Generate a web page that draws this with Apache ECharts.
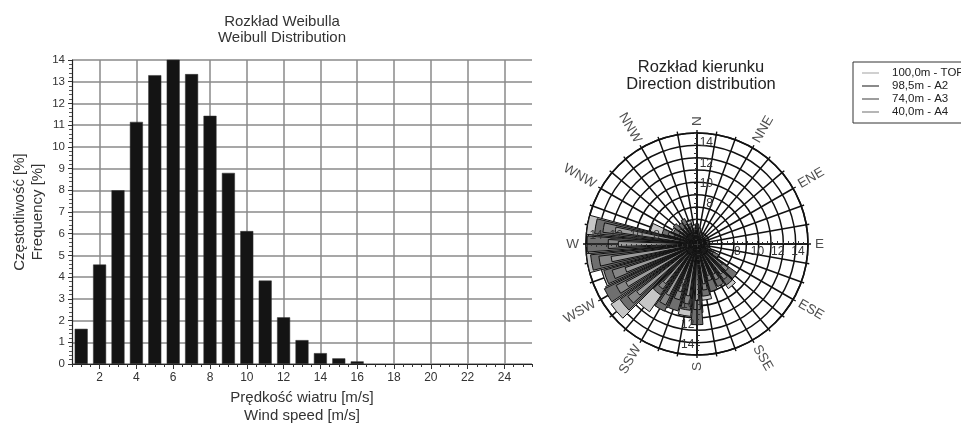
<!DOCTYPE html>
<html>
<head>
<meta charset="utf-8">
<script src="https://cdn.jsdelivr.net/npm/echarts@6/dist/echarts.min.js"></script>
<style>
  html, body { margin: 0; padding: 0; background: #fff; }
  #chart { width: 961px; height: 430px; }
</style>
</head>
<body>
<div id="chart"></div>
<script>
// Weibull histogram: wind speed bins (m/s) and frequency (%)
var speedBins = [1, 2, 3, 4, 5, 6, 7, 8, 9, 10, 11, 12, 13, 14, 15, 16];
var frequency = [1.62, 4.58, 8.0, 11.15, 13.3, 14.05, 13.35, 11.43, 8.8, 6.12, 3.84, 2.15, 1.1, 0.5, 0.26, 0.12];
var speedLabels = [2, 4, 6, 8, 10, 12, 14, 16, 18, 20, 22, 24];

// Direction rose: 36 sectors of 10 degrees, clockwise from N
var sectorAngles = [];
for (var i = 0; i < 36; i++) sectorAngles.push(String(i * 10));
var topVals = [5.6, 5.3, 5.0, 4.9, 4.8, 4.7, 4.6, 4.6, 4.6, 4.7, 4.9, 5.2, 6.0, 7.6, 9.4, 8.6, 8.2, 9.6,
               10.8, 11.2, 10.4, 11.0, 12.2, 14.4, 14.0, 13.8, 15.0, 14.8, 15.0, 8.8, 6.8, 6.3, 6.0, 6.2, 6.4, 5.9];
var a2Vals = [6.0, 5.6, 5.2, 5.0, 4.8, 4.7, 4.6, 4.6, 4.7, 4.8, 5.0, 5.4, 6.4, 8.9, 9.0, 8.7, 8.9, 9.2,
              12.0, 10.6, 10.9, 11.4, 10.2, 13.4, 14.2, 13.6, 14.6, 14.9, 14.2, 7.6, 6.6, 6.9, 6.6, 6.8, 6.1, 5.6];
var a3Vals = [5.3, 5.0, 4.9, 4.8, 4.6, 4.6, 4.5, 4.5, 4.6, 4.7, 4.8, 5.1, 5.8, 7.9, 8.4, 8.0, 7.8, 8.6,
              10.5, 10.0, 9.8, 10.8, 9.6, 12.6, 13.0, 12.8, 13.8, 12.8, 13.4, 7.0, 6.0, 6.2, 6.0, 6.2, 5.8, 5.4];
var a4Vals = [5.0, 4.8, 4.7, 4.6, 4.5, 4.5, 4.4, 4.4, 4.5, 4.6, 4.7, 4.9, 5.5, 7.2, 7.8, 7.4, 7.3, 8.0,
              9.6, 9.2, 9.0, 9.8, 9.0, 11.6, 12.0, 11.5, 12.6, 11.8, 12.2, 6.4, 5.6, 5.8, 5.6, 5.8, 5.4, 5.1];
var dirNames = ['N', 'NNE', 'ENE', 'E', 'ESE', 'SSE', 'S', 'SSW', 'WSW', 'W', 'WNW', 'NNW'];
var dirAngles = [0, 30, 60, 90, 120, 150, 180, 210, 240, 270, 300, 330];
var seriesNames = ['100,0m - TOP', '98,5m - A2', '74,0m - A3', '40,0m - A4'];

var FONT = 'Liberation Sans, Arial, sans-serif';
var C = [697, 244], R = 111;
var black = '#111';

var chart = echarts.init(document.getElementById('chart'), null, { renderer: 'canvas' });

// polar 0 = grid, 1..4 = bar series, 5..8 = radius axes N/E/S/W, 9 = direction names
var polars = [], angleAxes = [], radiusAxes = [];
for (var p = 0; p < 9; p++) polars.push({ center: C, radius: [0, R] });
polars.push({ center: C, radius: [0, 140] });

angleAxes.push({
  polarIndex: 0, type: 'value', min: 0, max: 360, interval: 10, startAngle: 90, clockwise: true,
  axisLine: { lineStyle: { color: black, width: 1.6 } },
  axisTick: { show: true, length: 3, lineStyle: { color: black, width: 1.4 } },
  axisLabel: { show: false },
  splitLine: { show: true, lineStyle: { color: black, width: 1.5 } }
});
radiusAxes.push({
  polarIndex: 0, type: 'value', min: 0, max: 9, interval: 1,
  axisLine: { show: false }, axisTick: { show: false }, axisLabel: { show: false },
  splitLine: { show: true, lineStyle: { color: black, width: 1.5 } }
});
for (var b = 1; b <= 4; b++) {
  angleAxes.push({
    polarIndex: b, type: 'category', data: sectorAngles, startAngle: 95, clockwise: true,
    boundaryGap: true, show: false
  });
  radiusAxes.push({ polarIndex: b, type: 'value', min: 4, max: 15, show: false });
}
[90, 0, 270, 180].forEach(function (a, k) {
  angleAxes.push({ polarIndex: 5 + k, type: 'value', min: 0, max: 360, startAngle: a, show: false });
  radiusAxes.push({
    polarIndex: 5 + k, type: 'value', min: 4, max: 15, interval: 1, z: 5,
    axisLine: { show: true, lineStyle: { color: black, width: 1.5 } },
    axisTick: { show: true, length: 3, lineStyle: { color: '#333' } },
    minorTick: { show: true, splitNumber: 2, length: 2, lineStyle: { color: '#333' } },
    axisLabel: {
      fontFamily: FONT, fontSize: 12, color: '#333', margin: (a === 90 || a === 270) ? -16 : -14,
      formatter: function (v) { return (v >= 8 && v % 2 === 0) ? String(v) : ''; }
    },
    splitLine: { show: false }
  });
});
angleAxes.push({ polarIndex: 9, type: 'value', min: 0, max: 360, startAngle: 90, clockwise: true, show: false });
radiusAxes.push({ polarIndex: 9, type: 'value', min: 0, max: 14, show: false });

var dirLabels = dirNames.map(function (n, i) {
  var t = dirAngles[i];
  var right = t < 180;
  return {
    name: n, value: [11.8, t],
    label: { rotate: right ? 90 - t : 270 - t, align: right ? 'left' : 'right' }
  };
});

var roseColors = ['#c6c6c6', '#6f6f6f', '#858585', '#9b9b9b'];
var roseWidths = ['100%', '84%', '58%', '36%'];
var roseData = [topVals, a2Vals, a3Vals, a4Vals];
var legendColors = ['#b0b0b0', '#3c3c3c', '#5c5c5c', '#858585'];

var series = [{
  type: 'bar', xAxisIndex: 0, yAxisIndex: 0,
  data: speedBins.map(function (s, i) { return [s, frequency[i]]; }),
  barWidth: 13,
  itemStyle: { color: '#141414', borderColor: '#333', borderWidth: 0.5 },
  z: 3
}];
roseData.forEach(function (vals, k) {
  series.push({
    name: seriesNames[k], type: 'bar', coordinateSystem: 'polar', polarIndex: 1 + k,
    data: vals, barWidth: roseWidths[k],
    itemStyle: { color: roseColors[k], borderColor: black, borderWidth: 1 },
    z: 2 + k
  });
});
series.push({
  type: 'scatter', coordinateSystem: 'polar', polarIndex: 9, symbol: 'circle', symbolSize: 1,
  itemStyle: { color: 'rgba(0,0,0,0)' },
  data: dirLabels, silent: true, z: 10,
  label: {
    show: true, position: 'inside', formatter: '{b}', verticalAlign: 'middle',
    fontFamily: FONT, fontSize: 13.5, color: '#222'
  }
});

var option = {
  backgroundColor: '#fff',
  animation: false,
  textStyle: { fontFamily: FONT },
  title: [
    {
      text: 'Rozkład Weibulla\nWeibull Distribution', left: 277, top: 9, textAlign: 'center',
      textStyle: { fontFamily: FONT, fontSize: 15, fontWeight: 'normal', color: '#333', lineHeight: 16 }
    },
    {
      text: 'Rozkład kierunku\nDirection distribution', left: 696, top: 54, textAlign: 'center',
      textStyle: { fontFamily: FONT, fontSize: 16.5, fontWeight: 'normal', color: '#222', lineHeight: 17 }
    }
  ],
  legend: {
    data: seriesNames.map(function (n, k) {
      return { name: n, itemStyle: { color: legendColors[k], borderWidth: 0 } };
    }),
    left: 853, top: 62, orient: 'vertical', icon: 'rect', itemWidth: 17, itemHeight: 1.2,
    itemGap: 1, padding: [5, 8, 5, 9], borderColor: '#333', borderWidth: 1,
    itemStyle: { borderWidth: 0 },
    textStyle: { fontFamily: FONT, fontSize: 11.5, color: '#222', padding: [0, 0, 0, 8] }
  },
  grid: { left: 72, right: 429, top: 60, bottom: 59 },
  xAxis: [
    {
      type: 'value', min: 0.5, max: 25.5,
      name: 'Prędkość wiatru [m/s]\nWind speed [m/s]', nameLocation: 'middle', nameGap: 25,
      nameTextStyle: { fontFamily: FONT, fontSize: 15, color: '#333', lineHeight: 18 },
      axisLine: { lineStyle: { color: '#222', width: 1.2 } },
      axisTick: { customValues: speedLabels, length: 5, lineStyle: { color: '#333' } },
      axisLabel: { customValues: speedLabels, fontFamily: FONT, fontSize: 12, color: '#333', margin: 8 },
      splitLine: { show: true, lineStyle: { color: '#8a8a8a', width: 1.5 } }
    },
    {
      type: 'value', min: 0.5, max: 25.5, interval: 0.5, position: 'bottom',
      axisLine: { show: false },
      axisTick: { show: true, length: 3, lineStyle: { color: '#333' } },
      axisLabel: { show: false }, splitLine: { show: false }
    }
  ],
  yAxis: {
    type: 'value', min: 0, max: 14, interval: 1,
    name: 'Częstotliwość [%]\nFrequency [%]', nameLocation: 'middle', nameGap: 25,
    nameTextStyle: { fontFamily: FONT, fontSize: 15, color: '#333', lineHeight: 18 },
    axisLine: { show: true, lineStyle: { color: '#222', width: 1.2 } },
    axisTick: { show: true, length: 4, lineStyle: { color: '#333' } },
    minorTick: { show: true, splitNumber: 5, length: 3, lineStyle: { color: '#555' } },
    axisLabel: { fontFamily: FONT, fontSize: 11.5, color: '#333', margin: 7 },
    splitLine: { show: true, lineStyle: { color: '#8a8a8a', width: 1.5 } }
  },
  polar: polars,
  angleAxis: angleAxes,
  radiusAxis: radiusAxes,
  series: series
};

chart.setOption(option);
</script>
</body>
</html>
